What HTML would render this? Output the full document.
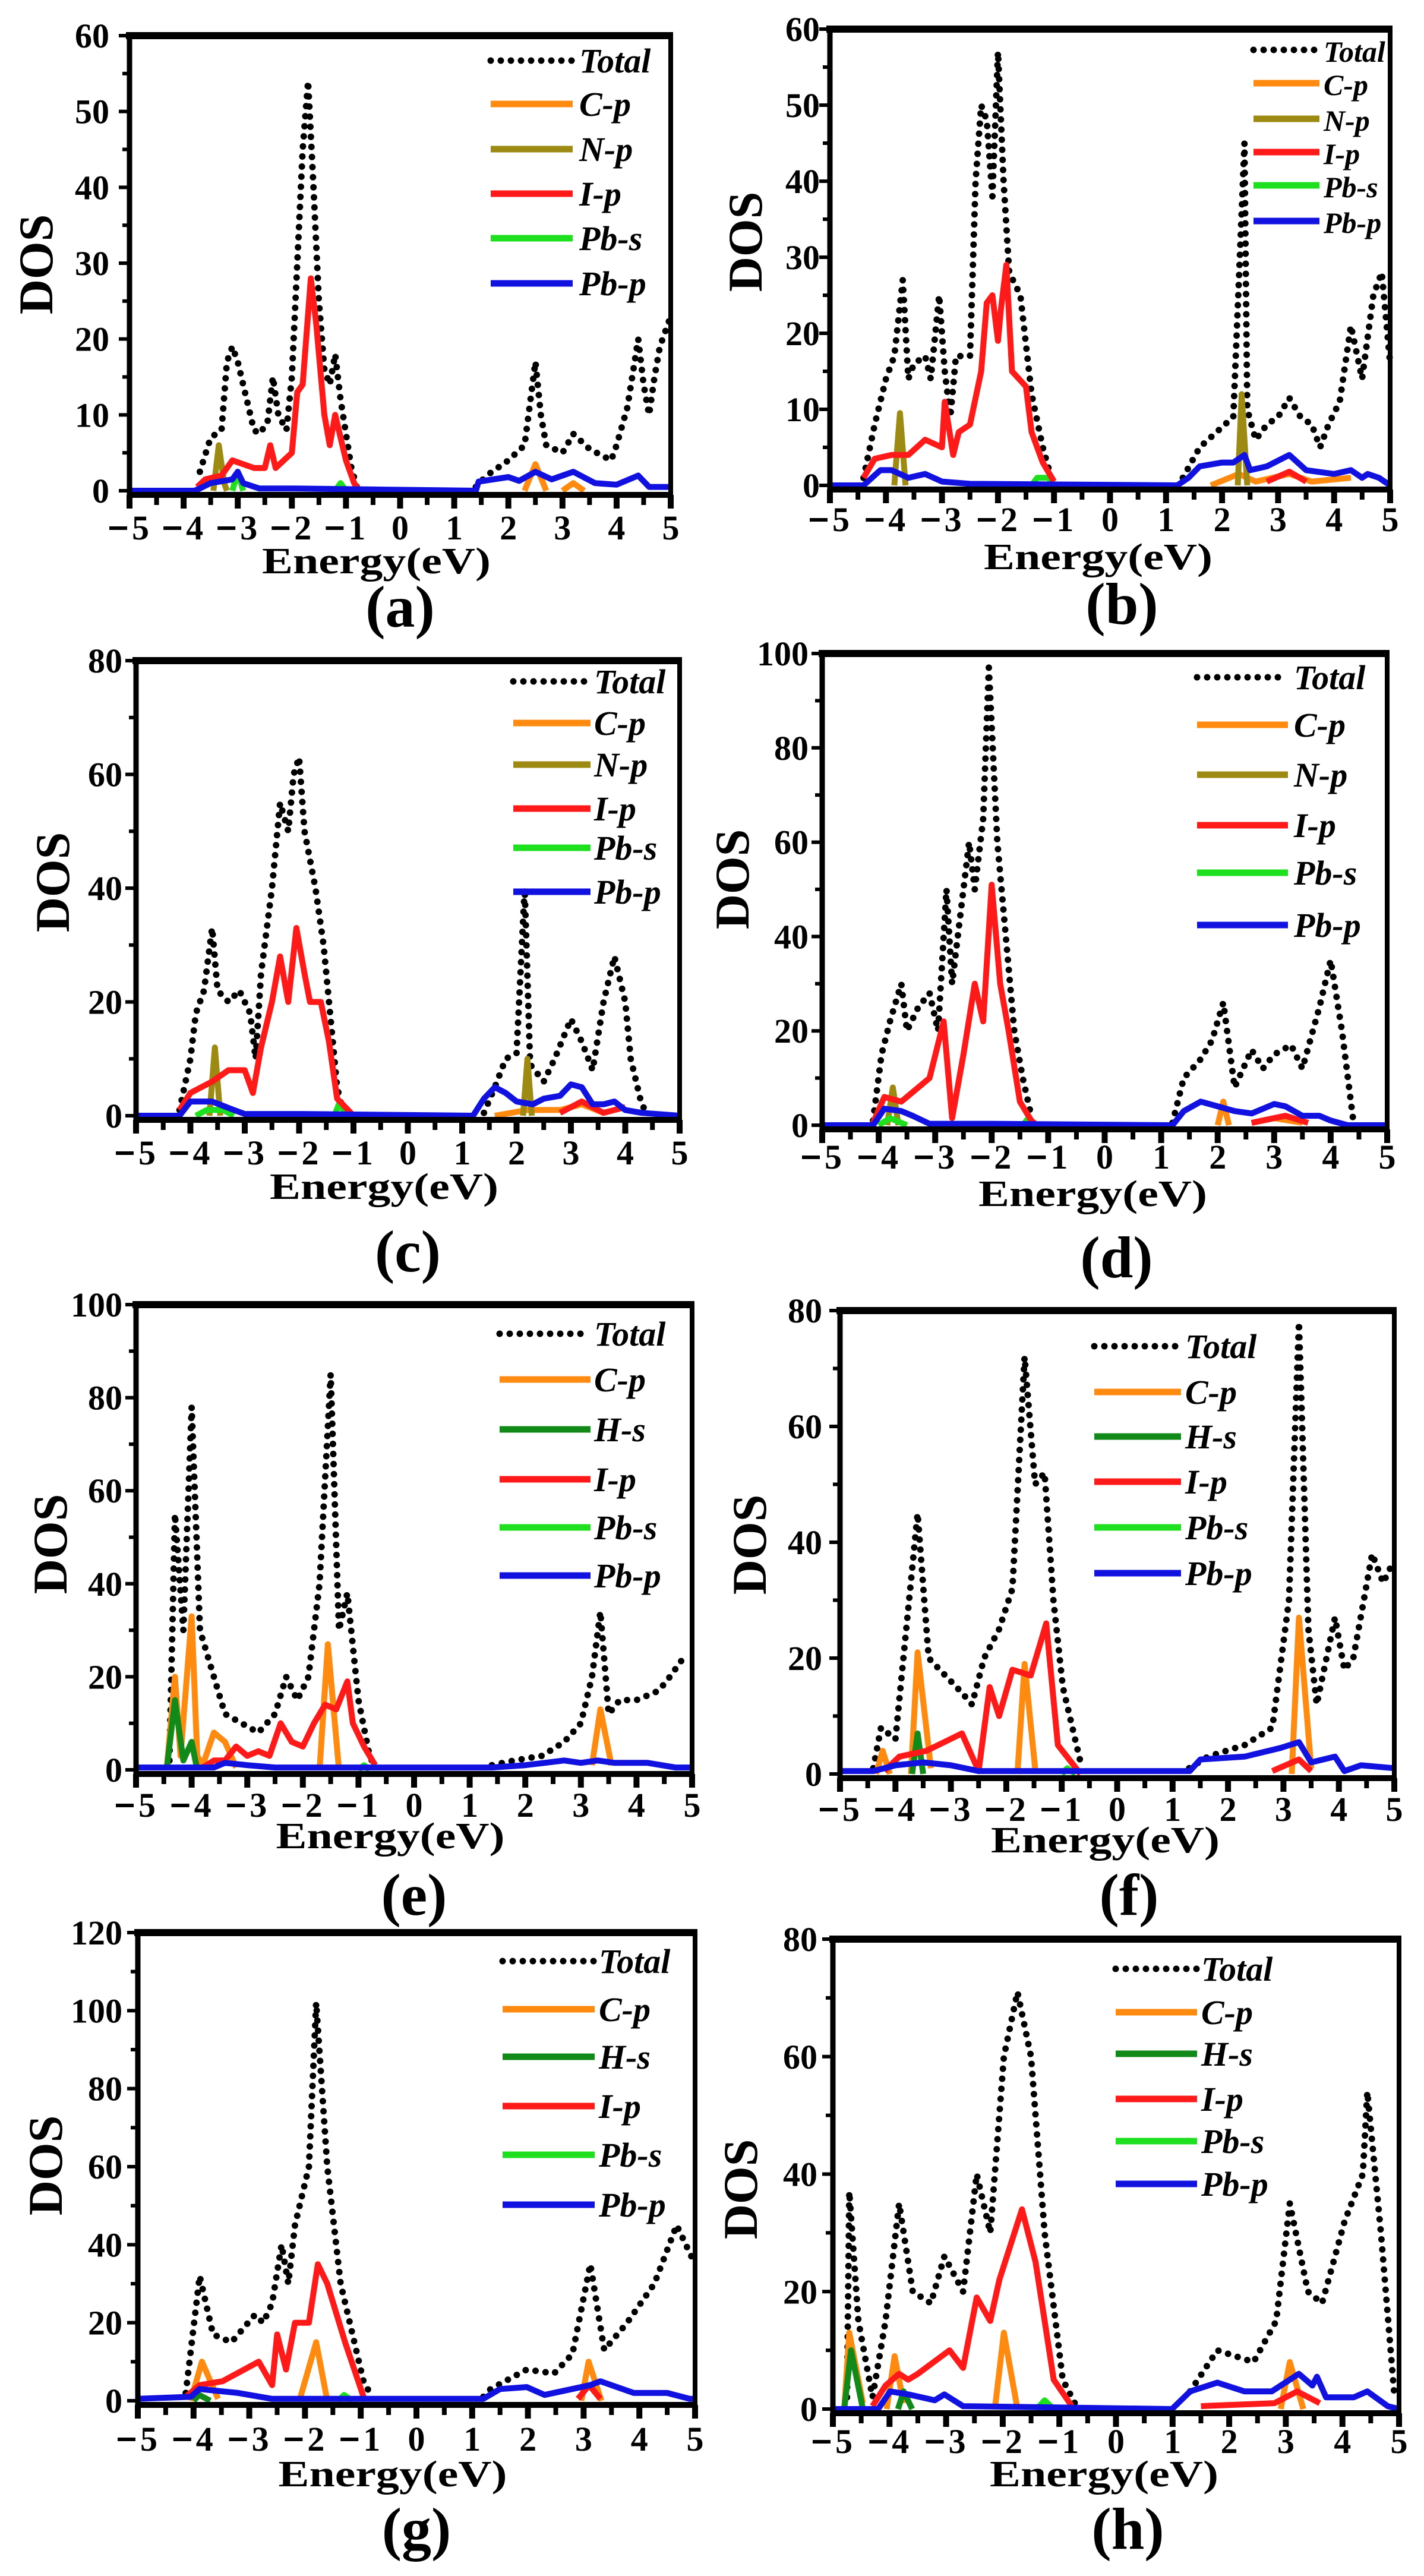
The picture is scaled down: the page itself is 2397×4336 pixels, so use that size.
<!DOCTYPE html>
<html><head><meta charset="utf-8"><style>html,body{margin:0;padding:0;background:#fff}svg text{font-family:"Liberation Serif",serif;font-weight:bold}</style></head>
<body>
<div id="c"></div>
<script>
var W=2397,H=4331;
var COL={T:'#000',C:'#ff8a10',N:'#9c8a12',H:'#128a1a',I:'#ff1a1a',S:'#1ee01e',P:'#1212e0'};
var NAME={C:'C-p',N:'N-p',H:'H-s',I:'I-p',S:'Pb-s',P:'Pb-p'};
var P=[
{L:218,R:1129,T:60,Y0:826,ymax:60,step:10,tb:908,eb:965,lb:1055,lab:'(a)',dos:[60,445],yr:184,
 leg:{x1:826,x2:964,tx:975,rows:[102,175,251,326,401,477]},keys:['C','N','I','S','P'],
 s:{T:[[[-3.7,2.5],[-3.5,7],[-3.3,8],[-3.2,17],[-3.1,19],[-3.0,17],[-2.9,14],[-2.7,8],[-2.6,7.5],[-2.45,9],[-2.35,15],[-2.25,10],[-2.1,8],[-2.0,15],[-1.9,30],[-1.8,45],[-1.7,54],[-1.6,40],[-1.5,25],[-1.4,16],[-1.3,14],[-1.2,18],[-1.1,12],[-0.9,3],[-0.8,0.5]],
   [[1.4,0.5],[1.6,2],[2.0,4],[2.3,6],[2.5,17],[2.6,10],[2.7,6],[3.0,5],[3.2,7.5],[3.5,5.5],[3.9,4],[4.0,6],[4.2,11],[4.4,20],[4.5,14],[4.6,10],[4.7,15],[4.8,19],[5.0,23]]],
  N:[[[-3.45,0],[-3.35,6],[-3.25,1],[-3.2,0]]],
  C:[[[2.3,0],[2.5,3.5],[2.7,0]],[[3.0,0],[3.2,1],[3.4,0]]],
  I:[[[-3.75,0.5],[-3.6,1.5],[-3.3,2],[-3.1,4],[-2.9,3.5],[-2.7,3],[-2.5,3],[-2.4,6],[-2.3,3],[-2.0,5],[-1.9,13],[-1.8,14],[-1.65,28],[-1.55,22],[-1.4,10],[-1.3,6],[-1.2,10],[-1.0,4],[-0.85,1],[-0.75,0]]],
  S:[[[-1.2,0],[-1.1,1],[-1.0,0]],[[-3.1,0],[-3.0,2.5],[-2.9,0]]],
  P:[[[-5,0],[-3.8,0],[-3.7,0.3],[-3.5,1],[-3.1,1.5],[-3.0,2.5],[-2.9,1],[-2.6,0.3],[-2,0.3],[1.4,0],[1.45,1.2],[2.0,1.8],[2.2,1.3],[2.5,2.5],[2.8,1.5],[3.2,2.5],[3.6,1],[4.0,0.8],[4.4,2],[4.6,0.5],[5,0.5]]]}},
{L:1397,R:2340,T:49,Y0:817,ymax:60,step:10,tb:894,eb:958,lb:1050,lab:'(b)',dos:[1254,407],yr:1380,
 leg:{x1:2110,x2:2221,tx:2228,rows:[84,140,200,256,312,372],fs:50},keys:['C','N','I','S','P'],
 s:{T:[[[-4.4,1],[-4.2,8],[-4.0,14],[-3.85,17],[-3.7,27],[-3.6,14],[-3.5,16],[-3.3,17],[-3.2,14],[-3.05,25],[-2.95,15],[-2.85,9],[-2.75,17],[-2.5,17],[-2.4,40],[-2.3,50],[-2.2,48],[-2.1,38],[-2.0,57],[-1.9,40],[-1.8,28],[-1.6,25],[-1.4,12],[-1.2,5],[-1.05,1]],
   [[1.3,1],[1.6,5],[1.9,7],[2.2,9],[2.4,45],[2.45,10],[2.6,6],[2.8,8],[3.0,9],[3.2,11.5],[3.4,9],[3.6,8],[3.75,5],[3.9,8],[4.1,11],[4.3,21],[4.5,14],[4.7,25],[4.85,28],[5,16]]],
  N:[[[-3.85,0],[-3.75,9.5],[-3.65,0]],[[2.28,0],[2.35,12],[2.45,0]]],
  C:[[[1.8,0],[2.3,1.5],[2.6,0.5],[3.2,1.5],[3.6,0.5],[4.3,1]]],
  I:[[[-4.4,1],[-4.2,3.5],[-3.9,4],[-3.6,4],[-3.3,6],[-3.0,5],[-2.95,11],[-2.8,4],[-2.7,7],[-2.5,8],[-2.3,15],[-2.2,24],[-2.1,25],[-2.0,19],[-1.95,23],[-1.85,29],[-1.75,15],[-1.5,13],[-1.4,7],[-1.2,3],[-1.0,0.5]],[[2.8,0.5],[3.2,1.8],[3.5,0.5]]],
  S:[[[-1.4,0],[-1.3,1],[-1.1,1],[-1.0,0]]],
  P:[[[-5,0],[-4.4,0],[-4.1,2],[-3.9,2],[-3.6,1],[-3.3,1.5],[-3.0,0.5],[-2.5,0.2],[1.2,0],[1.4,1],[1.6,2.5],[2.0,3],[2.2,3],[2.4,4],[2.5,2],[2.8,2.5],[3.2,4],[3.5,2],[4.0,1.5],[4.3,2],[4.5,1],[4.6,1.5],[4.8,1],[5,0]]]}},
{L:229,R:1144,T:1112,Y0:1878,ymax:80,step:20,tb:1960,eb:2018,lb:2140,lab:'(c)',dos:[88,1485],yr:206,
 leg:{x1:864,x2:994,tx:1000,rows:[1147,1217,1287,1361,1427,1501]},keys:['C','N','I','S','P'],
 s:{T:[[[-4.2,1],[-4.0,10],[-3.9,18],[-3.75,22],[-3.6,33],[-3.5,22],[-3.3,20],[-3.1,22],[-2.9,18],[-2.8,10],[-2.7,25],[-2.5,40],[-2.35,55],[-2.2,50],[-2.1,60],[-2.0,63],[-1.9,50],[-1.7,40],[-1.55,30],[-1.45,20],[-1.3,5],[-1.2,1]],
   [[1.4,0.5],[1.6,5],[1.8,10],[2.0,11],[2.15,40],[2.25,9],[2.5,6],[2.7,10],[3.0,17],[3.2,13],[3.4,8],[3.6,20],[3.8,28],[4.0,20],[4.1,10],[4.3,2],[4.4,0.5]]],
  N:[[[-3.65,0],[-3.55,12],[-3.45,0]],[[2.12,0],[2.2,10],[2.28,0]]],
  C:[[[1.6,0],[2.2,1],[2.8,1],[3.2,2],[3.6,0.5]]],
  I:[[[-4.2,1],[-4.0,4],[-3.6,6],[-3.3,8],[-3.0,8],[-2.85,4],[-2.7,12],[-2.5,20],[-2.35,28],[-2.2,20],[-2.05,33],[-1.9,25],[-1.8,20],[-1.6,20],[-1.45,13],[-1.3,3],[-1.1,1],[-1,0]],[[2.8,0.5],[3.2,2.5],[3.6,0.5],[4.0,1.5]]],
  S:[[[-1.35,0],[-1.25,2.5],[-1.15,0]],[[-3.9,0],[-3.7,1],[-3.4,1],[-3.2,0]]],
  P:[[[-5,0],[-4.2,0],[-4.0,2.5],[-3.6,2.5],[-3.2,1],[-3.0,0.3],[-2,0.3],[1.2,0],[1.4,3],[1.6,5],[1.8,4],[2.0,2.5],[2.3,2],[2.5,3],[2.8,3.5],[3.0,5.5],[3.2,5],[3.4,2],[3.6,2],[3.8,2.5],[4.0,1],[4.3,0.5],[5,0]]]}},
{L:1384,R:2335,T:1100,Y0:1894,ymax:100,step:20,tb:1967,eb:2030,lb:2150,lab:'(d)',dos:[1232,1480],yr:1361,
 leg:{x1:2015,x2:2168,tx:2178,rows:[1140,1220,1304,1389,1469,1557]},keys:['C','N','I','S','P'],
 s:{T:[[[-4.1,1],[-3.95,15],[-3.8,22],[-3.6,30],[-3.5,20],[-3.3,25],[-3.1,28],[-2.95,20],[-2.8,50],[-2.7,30],[-2.6,40],[-2.4,60],[-2.3,50],[-2.15,65],[-2.05,97],[-1.9,60],[-1.75,40],[-1.6,20],[-1.45,10],[-1.3,2]],
   [[1.2,0.5],[1.4,10],[1.7,14],[1.9,18],[2.1,26],[2.3,8],[2.6,16],[2.8,12],[3.0,15],[3.3,17],[3.5,12],[3.8,25],[4.0,35],[4.2,20],[4.4,1]]],
  N:[[[-3.85,0],[-3.75,8],[-3.65,0]]],
  C:[[[2.0,0],[2.1,5],[2.2,0]],[[2.6,0.5],[3.0,1.5],[3.5,0.5]]],
  I:[[[-4.1,0.5],[-3.9,6],[-3.6,5],[-3.3,8],[-3.1,10],[-2.85,22],[-2.7,1.5],[-2.5,15],[-2.3,30],[-2.15,22],[-2.0,51],[-1.85,30],[-1.7,20],[-1.5,5],[-1.3,1],[-1.2,0]],[[2.6,0.5],[3.2,2],[3.6,0.5]]],
  S:[[[-1.45,0],[-1.35,1.5],[-1.2,0]],[[-4.0,0],[-3.8,1.5],[-3.5,0]]],
  P:[[[-5,0],[-4.1,0],[-3.9,3.5],[-3.6,3],[-3.4,2],[-3.1,0.3],[-2,0.3],[1.2,0],[1.4,3],[1.7,5],[2.0,4],[2.3,3],[2.6,2.5],[3.0,4.5],[3.2,4],[3.5,2],[3.8,2],[4.0,1],[4.3,0],[5,0]]]}},
{L:229,R:1165,T:2196,Y0:2979,ymax:100,step:20,tb:3058,eb:3111,lb:3223,lab:'(e)',dos:[84,2599],yr:206,
 leg:{x1:841,x2:994,tx:1000,rows:[2245,2322,2406,2490,2571,2652]},keys:['C','H','I','S','P'],
 s:{T:[[[-4.4,2],[-4.3,55],[-4.15,30],[-4.0,78],[-3.85,30],[-3.6,20],[-3.4,12],[-3.1,10],[-2.8,8],[-2.5,12],[-2.3,20],[-2.1,15],[-1.9,20],[-1.7,40],[-1.5,85],[-1.35,30],[-1.2,38],[-1.0,15],[-0.8,3],[-0.7,0.5]],
   [[1.4,1],[1.8,2],[2.3,3],[2.7,6],[3.0,10],[3.2,20],[3.35,34],[3.5,12],[3.7,15],[4.0,15],[4.4,17],[4.6,20],[4.9,25]]],
  H:[[[-4.45,0],[-4.3,15],[-4.15,2],[-4.0,6],[-3.9,0]]],
  C:[[[-4.45,0],[-4.3,20],[-4.2,3],[-4.0,33],[-3.9,3],[-3.8,1],[-3.6,8],[-3.4,6],[-3.2,0.5]],[[-1.7,0],[-1.55,27],[-1.35,0]],[[3.2,1],[3.35,13],[3.55,1]]],
  I:[[[-3.8,0.5],[-3.6,2],[-3.4,2],[-3.2,5],[-3.0,3],[-2.8,4],[-2.6,3],[-2.4,10],[-2.2,6],[-2.0,5],[-1.8,10],[-1.6,14],[-1.4,13],[-1.2,19],[-1.1,10],[-0.9,5],[-0.7,1]]],
  S:[[[-1.0,0],[-0.9,1],[-0.8,0]]],
  P:[[[-5,0.5],[-3.6,0.5],[-3.4,1.5],[-3.0,1],[-2.5,0.5],[1.4,0.5],[2.0,1],[2.7,2],[3.0,1.5],[3.3,2],[3.6,1.5],[4.2,1.5],[4.7,0.5],[5,0.5]]]}},
{L:1414,R:2347,T:2206,Y0:2986,ymax:80,step:20,tb:3065,eb:3118,lb:3223,lab:'(f)',dos:[1261,2600],yr:1384,
 leg:{x1:1842,x2:1988,tx:1995,rows:[2266,2343,2418,2494,2571,2648]},keys:['C','H','I','S','P'],
 s:{T:[[[-4.4,1],[-4.26,8],[-4.0,6],[-3.6,45],[-3.4,20],[-3.1,17],[-2.8,14],[-2.62,12],[-2.4,20],[-2.13,25],[-1.89,32],[-1.67,72],[-1.48,50],[-1.31,52],[-1.15,30],[-0.98,15],[-0.66,2]],
   [[1.3,1],[1.64,3],[2.3,5],[2.8,8],[3.1,30],[3.28,78],[3.45,25],[3.6,12],[3.93,27],[4.1,18],[4.26,20],[4.45,30],[4.6,38],[4.8,33],[4.95,36]]],
  H:[[[-3.7,0],[-3.6,7],[-3.5,0]]],
  C:[[[-4.35,0],[-4.23,4],[-4.1,0]],[[-3.72,0],[-3.6,21],[-3.36,1]],[[-1.8,0],[-1.67,19],[-1.48,1]],[[3.15,0],[3.28,27],[3.5,1]]],
  I:[[[-4.2,0.5],[-3.93,3],[-3.44,4],[-2.8,7],[-2.5,0.5],[-2.3,15],[-2.13,10],[-1.89,18],[-1.56,17],[-1.28,26],[-1.07,5],[-0.66,0]],[[2.8,0.5],[3.28,2.5],[3.5,0.5]]],
  S:[[[-1.0,0],[-0.9,1],[-0.75,0]]],
  P:[[[-5,0.5],[-4.4,0.5],[-4.0,1.5],[-3.5,2],[-3.0,1.5],[-2.5,0.5],[1.31,0.5],[1.5,2.5],[2.3,3],[2.95,4.5],[3.28,5.5],[3.5,2],[3.93,3],[4.1,0.5],[4.4,1.5],[5,1]]]}},
{L:232,R:1170,T:3253,Y0:4041,ymax:120,step:20,tb:4125,eb:4185,lb:4290,lab:'(g)',dos:[76,3645],yr:206,
 leg:{x1:846,x2:1001,tx:1008,rows:[3301,3382,3462,3545,3627,3711]},keys:['C','H','I','S','P'],
 s:{T:[[[-4.14,2],[-3.89,32],[-3.65,17],[-3.32,15],[-2.9,22],[-2.75,20],[-2.59,25],[-2.42,40],[-2.3,30],[-2.18,45],[-1.93,60],[-1.8,102],[-1.6,60],[-1.36,30],[-0.95,5],[-0.8,1]],
   [[1.2,1],[1.33,3],[1.98,8],[2.47,7],[2.8,12],[3.12,35],[3.37,13],[3.78,20],[4.27,30],[4.67,45],[5,35]]],
  H:[[[-4.0,0],[-3.9,1.5],[-3.7,0]]],
  C:[[[-4.05,0],[-3.85,10],[-3.56,0.5]],[[-2.1,0],[-1.8,15],[-1.6,0]],[[2.96,0],[3.09,10],[3.32,0]]],
  I:[[[-4.14,1],[-3.89,4],[-3.48,5],[-2.83,10],[-2.59,4],[-2.5,17],[-2.34,8],[-2.18,20],[-1.93,20],[-1.77,35],[-1.6,30],[-1.28,15],[-0.95,1]],[[2.9,0.5],[3.1,4],[3.3,0.5]]],
  S:[[[-1.4,0],[-1.3,1.5],[-1.15,0]]],
  P:[[[-5,0.5],[-4.05,1],[-3.89,3],[-3.2,2],[-2.6,0.5],[1.2,0.5],[1.5,3],[1.98,3.5],[2.3,1.5],[3.12,4],[3.3,5],[3.9,2],[4.5,2],[4.9,0.5],[5,0.5]]]}},
{L:1402,R:2355,T:3264,Y0:4055,ymax:80,step:20,tb:4129,eb:4185,lb:4290,lab:'(h)',dos:[1246,3685],yr:1376,
 leg:{x1:1878,x2:2015,tx:2022,rows:[3314,3387,3457,3533,3604,3676]},keys:['C','H','I','S','P'],
 s:{T:[[[-4.75,2],[-4.71,37],[-4.55,15],[-4.3,2],[-4.07,15],[-3.83,35],[-3.59,20],[-3.27,18],[-3.03,26],[-2.7,20],[-2.46,40],[-2.22,30],[-1.98,60],[-1.74,71],[-1.5,60],[-1.26,30],[-0.94,5],[-0.7,0.5]],
   [[1.31,3],[1.79,10],[2.43,8],[2.83,15],[3.07,35],[3.39,20],[3.64,18],[4.04,32],[4.36,40],[4.44,54],[4.68,30],[4.92,2]]],
  H:[[[-4.8,0],[-4.68,10],[-4.47,0]],[[-3.85,0],[-3.75,3],[-3.6,0]]],
  C:[[[-4.8,0],[-4.71,13],[-4.47,1]],[[-4.05,0],[-3.91,9],[-3.75,1]],[[-2.14,0],[-1.98,13],[-1.74,0]],[[2.91,0],[3.07,8],[3.31,0]]],
  I:[[[-4.3,0.5],[-4.07,4],[-3.83,6],[-3.67,5],[-3.5,6],[-2.94,10],[-2.7,7],[-2.46,19],[-2.22,15],[-2.06,22],[-1.66,34],[-1.42,25],[-1.1,5],[-0.78,0.5]],[[1.5,0.5],[2.8,1],[3.2,3],[3.6,1]]],
  S:[[[-1.4,0],[-1.26,1.5],[-1.1,0]]],
  P:[[[-5,0],[-4.2,0],[-3.99,3],[-3.67,2.5],[-3.2,1.5],[-3.03,2.5],[-2.7,0.5],[0.99,0],[1.31,3],[1.79,4.5],[2.27,3],[2.75,3],[3.23,6],[3.47,4],[3.55,5.5],[3.71,2],[4.2,2],[4.44,3],[4.8,0.5],[5,0]]]}}
];
var o=[];
function t(x,y,s,fs,anc,extra){o.push('<text x="'+x+'" y="'+y+'" font-size="'+fs+'" text-anchor="'+(anc||'start')+'" '+(extra||'')+'>'+s+'</text>');}
P.forEach(function(p){
  var X=function(e){return p.L+(e+5)/10*(p.R-p.L);};
  var Y=function(v){return p.Y0-v/p.ymax*(p.Y0-p.T);};
  var pts=function(a){return a.map(function(q){return X(q[0]).toFixed(1)+','+Y(q[1]).toFixed(1);}).join(' ');};
  p.s.T.forEach(function(seg){o.push('<polyline points="'+pts(seg)+'" fill="none" stroke="#000" stroke-width="11" stroke-linecap="round" stroke-linejoin="round" stroke-dasharray="0 17"/>');});
  ['C','N','H','S','I','P'].forEach(function(k){ if(!p.s[k])return;
    p.s[k].forEach(function(seg){o.push('<polyline points="'+pts(seg)+'" fill="none" stroke="'+COL[k]+'" stroke-width="10" stroke-linejoin="round"/>');});});
  o.push('<line x1="'+(p.L-6)+'" y1="'+p.T+'" x2="'+(p.R+4)+'" y2="'+p.T+'" stroke="#000" stroke-width="12"/>');
  o.push('<line x1="'+p.L+'" y1="'+p.T+'" x2="'+p.L+'" y2="'+(p.Y0+8)+'" stroke="#000" stroke-width="9"/>');
  o.push('<line x1="'+p.R+'" y1="'+p.T+'" x2="'+p.R+'" y2="'+(p.Y0+8)+'" stroke="#000" stroke-width="8"/>');
  o.push('<line x1="'+(p.L-4)+'" y1="'+(p.Y0+7)+'" x2="'+(p.R+4)+'" y2="'+(p.Y0+7)+'" stroke="#000" stroke-width="10"/>');
  for(var e=-5;e<=5.01;e+=0.5){var xx=X(e),maj=Math.abs(e-Math.round(e))<0.01;
    o.push('<line x1="'+xx+'" y1="'+(p.Y0+7)+'" x2="'+xx+'" y2="'+(p.Y0+(maj?30:24))+'" stroke="#000" stroke-width="'+(maj?10:8)+'"/>');}
  for(var v=0;v<=p.ymax+0.01;v+=p.step/2){var yy=Y(v),mj=Math.abs(v/p.step-Math.round(v/p.step))<0.01;
    o.push('<line x1="'+(p.L-(mj?18:12))+'" y1="'+yy+'" x2="'+p.L+'" y2="'+yy+'" stroke="#000" stroke-width="6"/>');
    if(mj) t(p.yr,(yy+20).toFixed(1),''+v,58,'end');}
  for(var k=-5;k<=5;k++){var xx2=X(k);
    if(k<0){t(xx2+4,p.tb,''+(-k),58,'start');o.push('<rect x="'+(xx2-34)+'" y="'+(p.tb-22)+'" width="30" height="6" fill="#000"/>');}
    else t(xx2,p.tb,''+k,58,'middle');}
  var cx=(p.L+p.R)/2+(p.L<700?-40:-20);
  t(cx,p.eb,'Energy(eV)',62,'middle','textLength="385" lengthAdjust="spacingAndGlyphs"');
  t(cx+40,p.lb,p.lab,100,'middle');
  o.push('<text x="0" y="0" font-size="82" text-anchor="middle" transform="translate('+(p.dos[0]+28)+','+p.dos[1]+') rotate(-90)">DOS</text>');
  var lg=p.leg,fs=lg.fs||58;
  o.push('<line x1="'+lg.x1+'" y1="'+lg.rows[0]+'" x2="'+lg.x2+'" y2="'+lg.rows[0]+'" stroke="#000" stroke-width="11" stroke-linecap="round" stroke-dasharray="0 17"/>');
  t(lg.tx,lg.rows[0]+20,'Total',fs,'start','font-style="italic"');
  p.keys.forEach(function(kk,i){var yy=lg.rows[i+1];
    o.push('<line x1="'+lg.x1+'" y1="'+yy+'" x2="'+lg.x2+'" y2="'+yy+'" stroke="'+COL[kk]+'" stroke-width="11"/>');
    t(lg.tx,yy+20,NAME[kk],fs,'start','font-style="italic"');});
});
document.getElementById('c').innerHTML='<svg xmlns="http://www.w3.org/2000/svg" width="'+W+'" height="'+H+'" viewBox="0 0 '+W+' '+H+'" fill="#000"><rect width="'+W+'" height="'+H+'" fill="#fff"/>'+o.join('')+'</svg>';
</script>
</body></html>
